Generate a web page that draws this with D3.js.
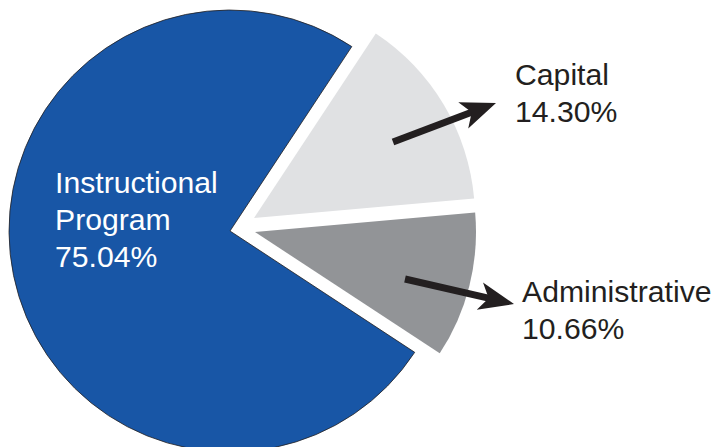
<!DOCTYPE html>
<html>
<head>
<meta charset="utf-8">
<script src="https://cdn.jsdelivr.net/npm/d3@7"></script>
<style>
  html, body { margin: 0; padding: 0; background: #fff; }
  svg { display: block; }
</style>
</head>
<body>
<script>
// ---- data ----
const categories = ["Instructional Program", "Capital", "Administrative"];
const values = [75.04, 14.30, 10.66];
const labelLines = [["Instructional", "Program"], ["Capital"], ["Administrative"]];

// ---- layout / style (not data) ----
const W = 715, H = 447;
const cx = 230, cy = 231, R = 221;
const colors = ["#1856a6", "#e0e1e3", "#929497"];
const explode = [[0, 0], [24, -13], [25, 1]];
const startDeg = 123.3;
const labelPos = [[55, 193, "#ffffff"], [515, 85, "#231f20"], [522, 302, "#231f20"]];
const arrows = [null, [[393, 142], [496, 103]], [[405, 279], [514, 304]]];
const fontSize = 30.2, lineGap = 37;

const svg = d3.select("body").append("svg").attr("width", W).attr("height", H);

const pie = d3.pie().sort(null)
  .startAngle(startDeg * Math.PI / 180)
  .endAngle(startDeg * Math.PI / 180 + 2 * Math.PI);
const arcs = pie(values);
const arc = d3.arc().innerRadius(0).outerRadius(R);

const g = svg.append("g").attr("transform", `translate(${cx},${cy})`);
g.selectAll("path.slice").data(arcs).join("path")
  .attr("class", "slice")
  .attr("d", arc)
  .attr("transform", (d, i) => `translate(${explode[i][0]},${explode[i][1]})`)
  .attr("fill", (d, i) => colors[i])
  .attr("stroke", (d, i) => i === 0 ? "#231f20" : "none")
  .attr("stroke-width", 0.8)
  .attr("stroke-linejoin", "miter");

// arrows
function drawArrow(p0, p1) {
  const dx = p1[0] - p0[0], dy = p1[1] - p0[1];
  const len = Math.hypot(dx, dy);
  const ang = Math.atan2(dy, dx) * 180 / Math.PI;
  const L = 35, w = 14, notch = 9;
  const a = svg.append("g").attr("transform", `translate(${p0[0]},${p0[1]}) rotate(${ang})`);
  a.append("line").attr("x1", 0).attr("y1", 0).attr("x2", len - L + notch + 2).attr("y2", 0)
    .attr("stroke", "#231f20").attr("stroke-width", 7);
  a.append("path")
    .attr("d", `M${len},0 L${len - L},${w} L${len - L + notch},0 L${len - L},${-w} Z`)
    .attr("fill", "#231f20");
}
arrows.forEach(a => { if (a) drawArrow(a[0], a[1]); });

// labels
categories.forEach((c, i) => {
  const [x, y, col] = labelPos[i];
  const lines = labelLines[i].concat([values[i].toFixed(2) + "%"]);
  const t = svg.append("text")
    .attr("x", x).attr("y", y)
    .attr("fill", col)
    .style("font-family", "'Liberation Sans', Arial, sans-serif")
    .style("font-size", fontSize + "px");
  lines.forEach((ln, j) => {
    t.append("tspan").attr("x", x).attr("y", y + j * lineGap).text(ln);
  });
});
</script>
</body>
</html>
